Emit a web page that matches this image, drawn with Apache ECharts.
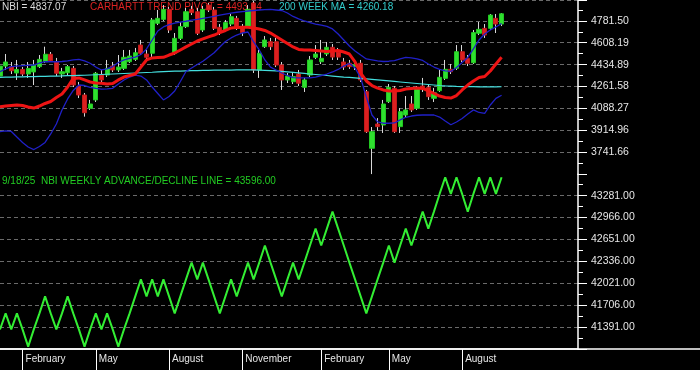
<!DOCTYPE html>
<html><head><meta charset="utf-8">
<script src="https://cdn.jsdelivr.net/npm/echarts@6/dist/echarts.min.js"></script>
<style>html,body{margin:0;padding:0;background:#000;}#c{width:700px;height:370px;}</style>
</head><body><div id="c"></div>
<script>
// Weekly bars, first week ending 2024-01-05, last bar 9/18/25
const firstWeek = '2024-01-05';
const opens = [4345,4424,4419,4369,4397,4361,4377,4419,4458,4517, 4458,4361,4371,4406,4261,4195,4090,4156,4353,4353, 4424,4393,4406,4458,4477,4590,4519,4525,4762,4793, 4872,4525,4643,4735,4872,4853,4709,4906,4867,4730, 4709,4756,4801,4735,4735,4920,4393,4577,4616,4616, 4432,4314,4300,4361,4256,4353,4493,4458,4519,4572, 4535,4456,4446,4419,4446,4221,3774,3966,3958,4142, 4248,3945,4037,4124,4090,4266,4256,4169,4229,4327, 4398,4406,4537,4485,4450,4683,4722,4722,4801,4756];
const closes = [4424,4456,4387,4397,4361,4405,4432,4477,4517,4466, 4367,4379,4419,4274,4195,4055,4124,4367,4314,4406, 4393,4416,4493,4503,4529,4525,4493,4788,4801,4872, 4709,4643,4735,4853,4846,4683,4872,4867,4722,4688, 4767,4814,4722,4688,4872,4393,4525,4630,4577,4432, 4314,4345,4340,4288,4314,4472,4519,4485,4572,4495, 4495,4416,4419,4436,4314,3905,3905,3945,4124,4256, 3905,4063,4077,4077,4248,4251,4182,4213,4335,4398, 4379,4537,4472,4446,4688,4714,4669,4827,4756,4837.07];
const lows = [4330,4393,4361,4314,4345,4330,4274,4409,4448,4456, 4345,4330,4353,4258,4171,4024,4077,4140,4298,4337, 4377,4377,4393,4448,4464,4511,4456,4495,4748,4780, 4685,4511,4630,4725,4827,4669,4693,4851,4709,4669, 4693,4740,4709,4661,4725,4369,4330,4567,4551,4416, 4235,4290,4282,4266,4219,4337,4480,4440,4503,4472, 4472,4393,4401,4393,4298,3895,3570,3911,3895,4132, 3895,3895,4021,4061,4077,4219,4156,4140,4219,4314, 4361,4393,4456,4424,4440,4669,4646,4709,4685,4740];
const highs = [4472,4519,4456,4472,4416,4456,4472,4511,4577,4535, 4488,4409,4432,4424,4298,4211,4156,4377,4393,4472, 4456,4511,4551,4551,4567,4630,4551,4804,4867,4906, 4891,4685,4772,4883,4899,4883,4899,4922,4891,4756, 4788,4835,4820,4756,4906,4938,4551,4661,4646,4646, 4456,4369,4377,4393,4330,4503,4590,4630,4614,4598, 4567,4488,4472,4472,4472,4235,3942,4013,4156,4282, 4266,4092,4187,4187,4266,4330,4282,4251,4393,4472, 4440,4590,4590,4511,4709,4772,4756,4835,4835,4843];
const trendPivot = [4103,4108,4112,4116,4112,4100,4092,4108,4128,4144, 4175,4203,4258,4326,4330,4314,4298,4290,4288,4282, 4286,4314,4337,4349,4361,4416,4472,4488,4492,4493, 4511,4527,4551,4575,4598,4622,4638,4654,4669,4689, 4705,4725,4728,4730,4730,4725,4717,4705,4685,4658, 4630,4602,4575,4555,4551,4551,4547,4543,4539,4543, 4547,4535,4519,4456,4369,4306,4270,4250,4235,4227, 4227,4231,4243,4247,4250,4247,4227,4207,4187,4175, 4171,4191,4235,4274,4306,4333,4341,4385,4440,4493.94];
const upperBand = [4379,4401,4420,4424,4428,4430,4432,4448,4458,4458, 4458,4460,4464,4472,4477,4464,4446,4416,4393,4401, 4420,4452,4472,4484,4495,4515,4559,4630,4701,4733, 4752,4763,4771,4778,4786,4793,4801,4808,4816,4826, 4835,4843,4849,4854,4859,4863,4867,4870,4871,4867, 4863,4843,4816,4796,4780,4768,4756,4748,4737,4717, 4677,4630,4582,4543,4511,4480,4472,4464,4460,4462, 4467,4480,4492,4488,4480,4468,4440,4416,4397,4386, 4381,4413,4452,4492,4559,4630,4677,4709,4733,4760];
const lowerBand = [3905,3911,3907,3863,3820,3784,3764,3788,3820,3887, 3966,4077,4164,4231,4274,4270,4256,4247,4241,4244, 4248,4282,4314,4337,4353,4345,4314,4258,4207,4156, 4183,4227,4302,4381,4409,4436,4462,4495,4529,4575, 4618,4646,4669,4685,4693,4614,4551,4472,4416,4393, 4369,4349,4333,4330,4330,4330,4337,4349,4361,4377, 4397,4424,4444,4409,4330,4179,4037,3982,3972,3972, 3974,3998,4019,4029,4035,4037,4037,4037,4021,3990, 3960,3982,4009,4045,4077,4057,4049,4116,4168,4193];
const ma200 = [4335,4336,4337,4338,4339,4340,4341,4342,4343,4344, 4345,4346,4348,4349,4350,4351,4353,4355,4357,4359, 4361,4363,4365,4367,4369,4371,4373,4375,4378,4380, 4382,4383,4384,4386,4387,4388,4389,4390,4391,4391, 4392,4392,4393,4393,4394,4393,4392,4390,4388,4385, 4382,4378,4374,4370,4366,4361,4357,4353,4349,4345, 4341,4337,4334,4330,4326,4322,4318,4314,4310,4306, 4302,4298,4294,4290,4286,4282,4278,4274,4270,4267, 4265,4263,4262,4261,4261,4260,4260,4260,4260,4260.18];
const adLine = [41360,41590,41360,41590,41360,41113,41360,41590,41834,41590, 41360,41590,41834,41590,41360,41113,41360,41590,41360,41590, 41360,41113,41360,41590,41834,42078,41834,42078,41834,42078, 41834,41590,41834,42078,42319,42078,42319,42078,41834,41590, 41834,42078,41834,42078,42319,42078,42319,42566,42319,42078, 41834,42078,42319,42078,42319,42566,42808,42566,42808,43052, 42808,42566,42319,42078,41834,41590,41834,42078,42319,42566, 42319,42566,42808,42566,42808,43052,42808,43052,43306,43546, 43306,43546,43306,43052,43306,43546,43306,43546,43306,43546];
const monthTickWeeks = [4,17,30,43,57,69,82];
const monthTickLabels = ['February','May','August','November','February','May','August'];
const priceTickLabels = ['3741.66','3914.96','4088.27','4261.58','4434.89','4608.19','4781.50'];
const adTickLabels = ['41391.00','41706.00','42021.00','42336.00','42651.00','42966.00','43281.00'];
const headerNBI = 'NBI = 4837.07';
const headerPivot = 'CARHARTT TREND PIVOT = 4493.94';
const headerMA = '200 WEEK MA = 4260.18';
const headerAD = '9/18/25  NBI WEEKLY ADVANCE/DECLINE LINE = 43596.00';

const FONT = '"Liberation Sans", Arial, sans-serif';
const PLOT_W = 578, X_MAX = 102.56;
const TOP_H = 174.3, BOT_TOP = 174.3, BOT_H = 174.9;

function labelLookup(list){
  return function(v){
    for (const s of list){ if (Math.abs(parseFloat(s) - v) < 1) return s; }
    return '';
  };
}
const idx = a => a.map((v,i)=>[i,v]);
const candleFull = opens.map((o,i)=>[i,o,closes[i],lows[i],highs[i]]);
const candleBody = opens.map((o,i)=>[i,o,closes[i],Math.min(o,closes[i]),Math.max(o,closes[i])]);

const gridLine = {show:true, lineStyle:{color:'#6a6a6a', width:1, type:[4,3]}};
function yAx(gi, min, max, interval, labels){
  return {
    type:'value', gridIndex:gi, position:'right', min:min, max:max, interval:interval,
    axisLine:{show:true, onZero:false, lineStyle:{color:'#ffffff', width:1.5}},
    axisTick:{show:true, length:9, lineStyle:{color:'#ffffff'}},
    minorTick:{show:true, splitNumber:2, length:5, lineStyle:{color:'#ffffff'}},
    axisLabel:{margin:13, color:'#e6e6e6', fontSize:10.5, fontFamily:FONT, formatter:labelLookup(labels)},
    splitLine:Object.assign({showMinLine:false, showMaxLine: gi===0}, gridLine)
  };
}

const chart = echarts.init(document.getElementById('c'), null, {renderer:'canvas'});
chart.setOption({
  backgroundColor:'#000000',
  animation:false,
  grid:[
    {left:0, top:0, width:PLOT_W, height:TOP_H},
    {left:0, top:BOT_TOP, width:PLOT_W, height:BOT_H},
    {left:0, right:0, top:BOT_TOP+BOT_H, height:0.01}
  ],
  xAxis:[
    {type:'value', gridIndex:0, min:0, max:X_MAX, show:false, splitLine:{show:false}},
    {type:'value', gridIndex:1, min:0, max:X_MAX,
      axisLine:{show:true, onZero:false, lineStyle:{color:'#ffffff', width:1.5}},
      axisTick:{show:true, customValues:monthTickWeeks, length:21, lineStyle:{color:'#ffffff'}},
      axisLabel:{show:true, customValues:monthTickWeeks, align:'left', padding:[0,0,0,3], margin:5,
        color:'#e6e6e6', fontSize:10, fontFamily:FONT,
        formatter:function(v){ const k = monthTickWeeks.indexOf(Math.round(v)); return k>=0 ? monthTickLabels[k] : ''; }},
      splitLine:{show:false}},
    {type:'value', gridIndex:2, min:0, max:1,
      axisLine:{show:true, onZero:false, lineStyle:{color:'#ffffff', width:1.5}},
      axisTick:{show:false}, axisLabel:{show:false}, splitLine:{show:false}}
  ],
  yAxis:[
    yAx(0, 3568.3533, 4945.9, 173.3067, priceTickLabels),
    yAx(1, 41076, 43588, 315, adTickLabels),
    {type:'value', gridIndex:2, show:false}
  ],
  graphic:[
    {type:'text', x:2, y:7, z:0, style:{text:headerNBI, fill:'#dcdcdc', font:'10px '+FONT, verticalAlign:'middle'}},
    {type:'text', x:90, y:7, z:0, style:{text:headerPivot, fill:'#dd2222', font:'10px '+FONT, verticalAlign:'middle'}},
    {type:'text', x:279, y:7, z:0, style:{text:headerMA, fill:'#33cccc', font:'10px '+FONT, verticalAlign:'middle'}},
    {type:'text', x:2, y:181, z:0, style:{text:headerAD, fill:'#22cc22', font:'10px '+FONT, verticalAlign:'middle'}}
  ],
  series:[
    {type:'candlestick', name:'wick', xAxisIndex:0, yAxisIndex:0, data:candleFull, encode:{x:0, y:[1,2,3,4]},
      barWidth:1, clip:true, z:3,
      itemStyle:{color:'#d8d8d8', color0:'#d8d8d8', borderColor:'#d8d8d8', borderColor0:'#d8d8d8', borderWidth:1}},
    {type:'candlestick', name:'body', xAxisIndex:0, yAxisIndex:0, data:candleBody, encode:{x:0, y:[1,2,3,4]},
      barWidth:4.6, clip:true, z:4,
      itemStyle:{color:'#2fe02f', color0:'#dc2020', borderColor:'#22c822', borderColor0:'#c01a1a', borderWidth:1}},
    {type:'line', name:'ma', xAxisIndex:0, yAxisIndex:0, data:idx(ma200), showSymbol:false, z:5,
      lineStyle:{color:'#44dede', width:1.2}},
    {type:'line', name:'upper', xAxisIndex:0, yAxisIndex:0, data:idx(upperBand), showSymbol:false, z:5,
      lineStyle:{color:'#2020c8', width:1.3}},
    {type:'line', name:'lower', xAxisIndex:0, yAxisIndex:0, data:idx(lowerBand), showSymbol:false, z:5,
      lineStyle:{color:'#2020c8', width:1.3}},
    {type:'line', name:'pivot', xAxisIndex:0, yAxisIndex:0, data:idx(trendPivot), showSymbol:false, z:6,
      lineStyle:{color:'#ee1414', width:3}},
    {type:'line', name:'ad', xAxisIndex:1, yAxisIndex:1, data:idx(adLine), showSymbol:false, z:5,
      lineStyle:{color:'#33ee33', width:2}}
  ]
});
</script>
</body></html>
